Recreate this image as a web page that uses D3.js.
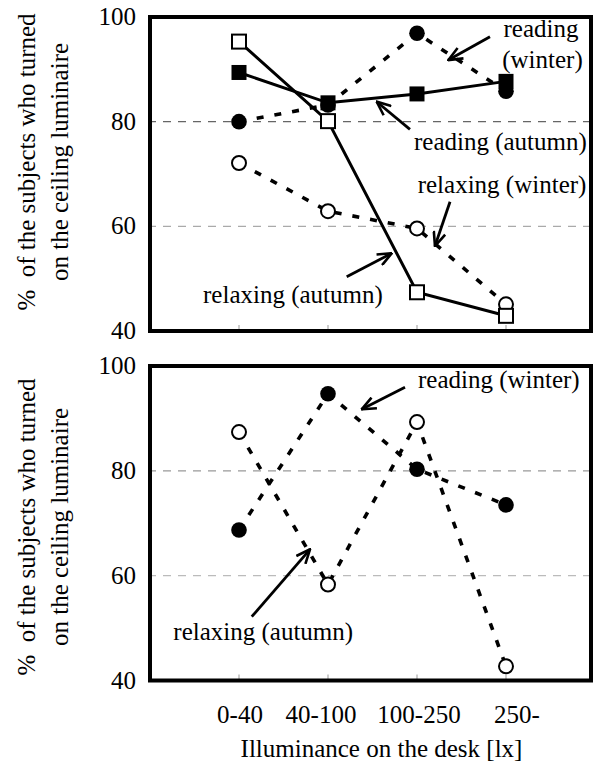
<!DOCTYPE html>
<html>
<head>
<meta charset="utf-8">
<script src="https://cdn.jsdelivr.net/npm/d3@7"></script>
</head>
<body style="margin:0">
<div id="chart"></div>
<script>
// Percentage of subjects who turned on the ceiling luminaire, by desk illuminance

// Categories and ticks
const categories = ['0-40', '40-100', '100-250', '250-'];
const yTicks = [40, 60, 80, 100];
const gridValues = [60, 80];

// Upper panel values (%)
const readingAutumnTop = [89.4, 83.6, 85.3, 87.7];
const readingWinterTop = [80.0, 83.2, 96.9, 85.8];
const relaxingAutumnTop = [95.3, 80.1, 47.4, 42.9];
const relaxingWinterTop = [72.1, 62.9, 59.6, 45.1];

// Lower panel values (%)
const readingWinterBottom = [68.7, 94.7, 80.3, 73.5];
const relaxingAutumnBottom = [87.4, 58.3, 89.3, 42.7];

// Annotation labels, placed in data units (category index, percent)
const topLabels = [
  { text: 'reading', i: 3.393, v: 96.18, anchor: 'middle' },
  { text: '(winter)', i: 3.41, v: 90.25, anchor: 'middle' },
  { text: 'reading (autumn)', i: 1.966, v: 74.58, anchor: 'start' },
  { text: 'relaxing (winter)', i: 2.008, v: 66.31, anchor: 'start' },
  { text: 'relaxing (autumn)', i: -0.404, v: 45.35, anchor: 'start' }
];
const topArrows = [
  { from: [2.820, 96.24], to: [2.352, 91.78] },
  { from: [1.921, 78.54], to: [1.547, 83.81] },
  { from: [2.371, 64.70], to: [2.202, 56.24] },
  { from: [1.210, 50.37], to: [1.716, 54.85] }
];
const bottomLabels = [
  { text: 'reading (winter)', i: 2.011, v: 95.75, anchor: 'start' },
  { text: 'relaxing (autumn)', i: -0.738, v: 47.73, anchor: 'start' }
];
const bottomArrows = [
  { from: [1.865, 95.94], to: [1.379, 91.74] },
  { from: [0.143, 52.17], to: [0.798, 65.03] }
];
const titleLines = ['%\u00a0 of the subjects who turned', 'on the ceiling luminaire'];

// Layout
const W = 595;
const H = 766;
const frameLeft = 150;
const frameRight = 591;
const tickLabelNudge = [1, -7, 2, 11];

const svg = d3.select('#chart')
  .append('svg')
  .attr('width', W)
  .attr('height', H);

// Add a serif text straight onto the svg root
function addText(str, px, py, anchor, transform) {
  return svg.append('text')
    .attr('x', px)
    .attr('y', py)
    .attr('text-anchor', anchor)
    .attr('transform', transform || null)
    .attr('font-size', 25)
    .attr('fill', '#000')
    .style('font-family', '"Liberation Serif"')
    .text(str);
}

// Arrowhead (open V)
svg.append('defs')
  .append('marker')
  .attr('id', 'arrowhead')
  .attr('viewBox', '0 0 16 14')
  .attr('refX', 15)
  .attr('refY', 7)
  .attr('markerWidth', 16)
  .attr('markerHeight', 14)
  .attr('markerUnits', 'userSpaceOnUse')
  .attr('orient', 'auto')
  .append('path')
  .attr('d', 'M1,1 L15,7 L1,13')
  .attr('fill', 'none')
  .attr('stroke', '#000')
  .attr('stroke-width', 2.6);

// Shared horizontal scale
const x = d3.scalePoint()
  .domain(categories)
  .range([frameLeft, 595])
  .padding(1);

const xIndex = d3.scaleLinear()
  .domain([0, categories.length - 1])
  .range([x(categories[0]), x(categories[categories.length - 1])]);

const panels = [
  {
    top: 17,
    bottom: 331,
    titleCenter: 162,
    gridColors: { 60: '#aaaaaa', 80: '#666666' },
    series: [
      { values: relaxingWinterTop, line: 'dot', marker: 'circle', fill: '#fff' },
      { values: readingWinterTop, line: 'dot', marker: 'circle', fill: '#000' },
      { values: relaxingAutumnTop, line: 'solid', marker: 'square', fill: '#fff' },
      { values: readingAutumnTop, line: 'solid', marker: 'square', fill: '#000' }
    ],
    labels: topLabels,
    arrows: topArrows,
    showXAxis: false
  },
  {
    top: 366,
    bottom: 680.5,
    titleCenter: 527,
    gridColors: { 60: '#bbbbbb', 80: '#999999' },
    series: [
      { values: readingWinterBottom, line: 'dot', marker: 'circle', fill: '#000' },
      { values: relaxingAutumnBottom, line: 'dot', marker: 'circle', fill: '#fff' }
    ],
    labels: bottomLabels,
    arrows: bottomArrows,
    showXAxis: true
  }
];

panels.forEach(function(p) {
  const y = d3.scaleLinear()
    .domain([40, 100])
    .range([p.bottom, p.top]);

  const g = svg.append('g');

  // Dashed grid lines
  g.selectAll('.grid')
    .data(gridValues)
    .enter()
    .append('line')
    .attr('class', 'grid')
    .attr('x1', frameLeft - 2)
    .attr('x2', frameRight)
    .attr('y1', d => y(d))
    .attr('y2', d => y(d))
    .attr('stroke', d => p.gridColors[d])
    .attr('stroke-width', 1.3)
    .attr('stroke-dasharray', '8,7');

  // Small inner ticks on the category positions
  g.selectAll('.xtick')
    .data(categories)
    .enter()
    .append('line')
    .attr('class', 'xtick')
    .attr('x1', d => x(d))
    .attr('x2', d => x(d))
    .attr('y1', p.bottom)
    .attr('y2', p.bottom - 6)
    .attr('stroke', '#999')
    .attr('stroke-width', 1);

  // Connecting lines
  const lineGen = d3.line()
    .x((d, i) => x(categories[i]))
    .y(d => y(d));

  g.selectAll('.series-line')
    .data(p.series)
    .enter()
    .append('path')
    .attr('class', 'series-line')
    .attr('d', d => lineGen(d.values))
    .attr('fill', 'none')
    .attr('stroke', '#000')
    .attr('stroke-width', d => d.line === 'dot' ? 3.6 : 3)
    .attr('stroke-dasharray', d => d.line === 'dot' ? '7,11' : null);

  // Markers
  p.series.forEach(function(s) {
    const pts = s.values.map((v, i) => ({ c: categories[i], v: v }));

    if (s.marker === 'circle') {
      g.selectAll(null)
        .data(pts)
        .enter()
        .append('circle')
        .attr('cx', d => x(d.c))
        .attr('cy', d => y(d.v))
        .attr('r', s.fill === '#000' ? 7.8 : 7)
        .attr('fill', s.fill)
        .attr('stroke', '#000')
        .attr('stroke-width', s.fill === '#000' ? 0 : 2);
    } else {
      const size = s.fill === '#000' ? 15 : 14;
      g.selectAll(null)
        .data(pts)
        .enter()
        .append('rect')
        .attr('x', d => x(d.c) - size / 2)
        .attr('y', d => y(d.v) - size / 2)
        .attr('width', size)
        .attr('height', size)
        .attr('fill', s.fill)
        .attr('stroke', '#000')
        .attr('stroke-width', s.fill === '#000' ? 0 : 2);
    }
  });

  // Frame
  g.append('rect')
    .attr('x', frameLeft)
    .attr('y', p.top)
    .attr('width', frameRight - frameLeft)
    .attr('height', p.bottom - p.top)
    .attr('fill', 'none')
    .attr('stroke', '#000')
    .attr('stroke-width', 4);

  // Annotation arrows
  g.selectAll('.note-arrow')
    .data(p.arrows)
    .enter()
    .append('line')
    .attr('class', 'note-arrow')
    .attr('x1', d => xIndex(d.from[0]))
    .attr('y1', d => y(d.from[1]))
    .attr('x2', d => xIndex(d.to[0]))
    .attr('y2', d => y(d.to[1]))
    .attr('stroke', '#000')
    .attr('stroke-width', 2.8)
    .attr('marker-end', 'url(#arrowhead)');

  // Y tick labels
  yTicks.forEach(function(t) {
    addText(String(t), frameLeft - 14, y(t) + 8, 'end');
  });

  // Y axis title, two rotated lines
  addText(titleLines[0], 0, 35, 'middle', `translate(0, ${p.titleCenter}) rotate(-90)`);
  addText(titleLines[1], 0, 68, 'middle', `translate(0, ${p.titleCenter}) rotate(-90)`);

  // Annotation labels
  p.labels.forEach(function(d) {
    addText(d.text, xIndex(d.i), y(d.v), d.anchor);
  });

  // Category labels and x title under the lower panel
  if (p.showXAxis) {
    categories.forEach(function(c, i) {
      addText(c, x(c) + tickLabelNudge[i], 723, 'middle');
    });

    addText('Illuminance on the desk [lx]', 381.5, 757, 'middle');
  }
});
</script>
</body>
</html>
